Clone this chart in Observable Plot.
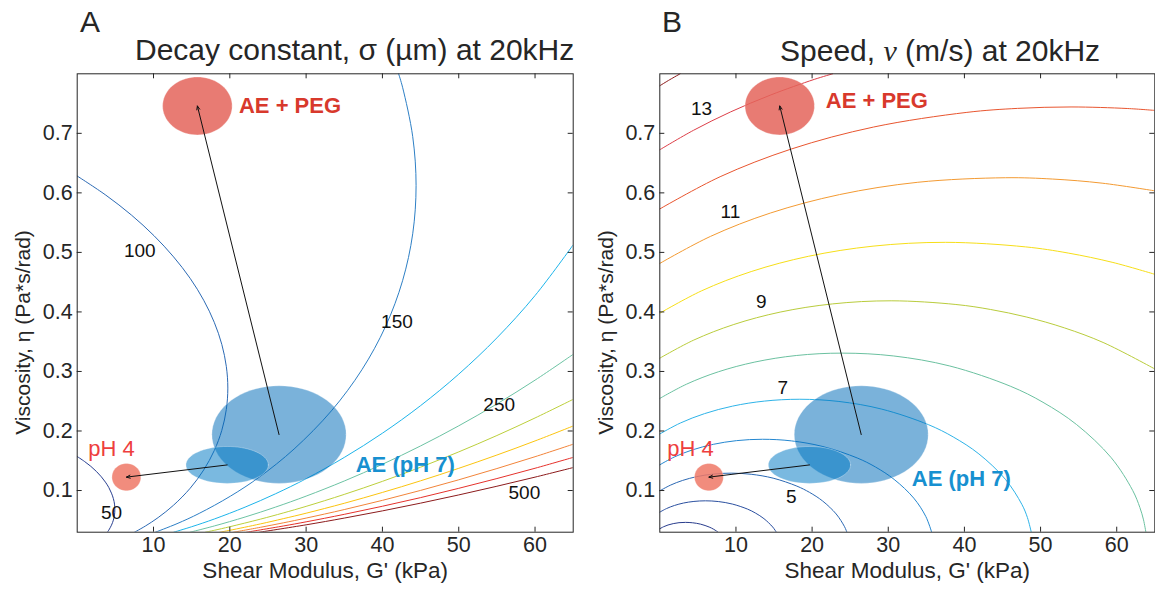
<!DOCTYPE html>
<html><head><meta charset="utf-8">
<script src="https://cdn.jsdelivr.net/npm/d3@7"></script>
<script src="https://cdn.jsdelivr.net/npm/@observablehq/plot@0.6"></script>
<style>
body{margin:0;background:#fff;}
#wrap{position:relative;width:1155px;height:597px;overflow:hidden;font-family:"Liberation Sans",Arial,Helvetica,sans-serif;color:#262626;}
.panel{position:absolute;top:0;}
.panel g[aria-label="x-axis tick label"], .panel g[aria-label="y-axis tick label"]{font-size:21.5px !important;}
.lbl{position:absolute;white-space:nowrap;line-height:1;}
</style></head><body><div id="wrap"></div>
<script>
// ---------- axes ----------
const xTicks = [10, 20, 30, 40, 50, 60];
const yTicks = [0.1, 0.2, 0.3, 0.4, 0.5, 0.6, 0.7];
const xDomain = [0, 65];
const yDomain = [0.03, 0.8];
const xLabel = "Shear Modulus, G' (kPa)";
const yLabel = "Viscosity, \u03b7 (Pa*s/rad)";

// ---------- samples (ellipses: mean +/- spread) ----------
const sampleNames = ["AE + PEG", "AE (pH 7) a", "AE (pH 7) b", "pH 4"];
const sampleG = [15.75, 26.45, 19.65, 6.45];
const sampleEta = [0.746, 0.194, 0.143, 0.1225];
const sampleGSpread = [4.56, 8.8, 5.4, 1.9];
const sampleEtaSpread = [0.0487, 0.082, 0.031, 0.023];
const sampleColors = ["#e4645a", "#006cb8", "#0078c4", "#ee7866"];
const sampleOpacity = [0.85, 0.52, 0.52, 0.85];
const arrowFrom = [1, 2];
const arrowTo = [0, 3];

// ---------- annotations ----------
const annText = ["AE + PEG", "AE (pH 7)", "pH 4"];
const annColors = ["#d8392c", "#1790d0", "#ee3e3e"];
const annWeights = ["bold", "bold", "normal"];
const annGA = [21.2, 36.5, 1.44];
const annEtaA = [0.7465, 0.1432, 0.170];
const annGB = [21.8, 33.1, 0.97];
const annEtaB = [0.755, 0.1197, 0.170];

// ---------- panel A: decay constant contours (um) ----------
const decayLevels = [50, 100, 150, 200, 250, 300, 350, 400, 450, 500];
const decayColors = ["#283f90", "#2c6ab4", "#2d7fc5", "#1db4ea", "#6cc3a3", "#bccf3b", "#fbc40f", "#f2843a", "#e5322c", "#8c1b1c"];
const decayG = [
  [0, 0.94, 1.78, 2.52, 3.16, 3.70, 4.15, 4.49, 4.74, 4.89, 4.93, 4.89, 4.74, 4.49, 4.15, 3.95],
  [0, 3.75, 7.11, 10.07, 12.63, 14.81, 16.58, 17.96, 18.95, 19.54, 19.74, 19.54, 18.95, 17.96, 16.58, 14.81, 12.63, 10.61, 8.93, 7.51],
  [42.12, 42.64, 43.97, 44.41, 43.97, 42.64, 40.42, 37.31, 33.31, 28.42, 23.88, 20.09, 15.99, 13.08, 10.25],
  [12.65, 15, 18, 22, 26, 30, 35, 40, 45, 50, 55, 60, 65],
  [14.8, 18, 22, 26, 30, 35, 40, 45, 50, 55, 60, 65],
  [16.8, 18, 20, 24, 27, 30, 35, 40, 45, 50, 55, 60, 65],
  [18.7, 20, 24, 27, 30, 35, 40, 45, 50, 55, 60, 65],
  [20.5, 24, 27, 30, 35, 40, 45, 50, 55, 60, 65],
  [22.2, 27, 30, 35, 40, 45, 50, 55, 60, 65],
  [23.9, 30, 35, 40, 45, 50, 55, 60, 65]
];
const decayEta = [
  [0.1571, 0.1490, 0.1407, 0.1320, 0.1231, 0.1141, 0.1049, 0.0956, 0.0864, 0.0772, 0.0680, 0.0590, 0.0503, 0.0418, 0.0337, 0.030],
  [0.6283, 0.5962, 0.5627, 0.5280, 0.4925, 0.4563, 0.4196, 0.3826, 0.3455, 0.3086, 0.2721, 0.2361, 0.2011, 0.1671, 0.1346, 0.1039, 0.0754, 0.0546, 0.0403, 0.030],
  [0.80, 0.7774, 0.6944, 0.6122, 0.5313, 0.4524, 0.3760, 0.3029, 0.2338, 0.1697, 0.1227, 0.0906, 0.0616, 0.0443, 0.030],
  [0.030, 0.0392, 0.0523, 0.0721, 0.0946, 0.1198, 0.1556, 0.1963, 0.2426, 0.2955, 0.3564, 0.4275, 0.5127],
  [0.030, 0.0406, 0.0555, 0.0722, 0.0906, 0.1160, 0.1441, 0.1749, 0.2087, 0.2454, 0.2854, 0.3288],
  [0.030, 0.0333, 0.0392, 0.0519, 0.0623, 0.0734, 0.0935, 0.1154, 0.1392, 0.1649, 0.1924, 0.2219, 0.2532],
  [0.030, 0.0332, 0.0439, 0.0527, 0.0619, 0.0786, 0.0968, 0.1163, 0.1373, 0.1596, 0.1833, 0.2084],
  [0.030, 0.0382, 0.0457, 0.0537, 0.0680, 0.0835, 0.1002, 0.1180, 0.1369, 0.1568, 0.1778],
  [0.030, 0.0404, 0.0474, 0.0600, 0.0736, 0.0881, 0.1037, 0.1201, 0.1374, 0.1557],
  [0.030, 0.0424, 0.0537, 0.0658, 0.0788, 0.0926, 0.1072, 0.1225, 0.1386]
];
const decayLabelText = ["50", "100", "150", "250", "500"];
const decayLabelG = [4.5, 8.2, 41.9, 55.3, 58.6];
const decayLabelEta = [0.062, 0.503, 0.384, 0.243, 0.096];

// ---------- panel B: speed contours (m/s) ----------
const speedLevels = [3, 4, 5, 6, 7, 8, 9, 10, 11, 12, 13, 14];
const speedColors = ["#283c8c", "#2a4f9f", "#2b68b3", "#2487d0", "#2eb3e8", "#6bc1a0", "#b9cc3c", "#f6de18", "#f39a32", "#e8552f", "#dc3f48", "#8d1b1b"];
const speedG = [
  [0, 0.50, 1.08, 1.76, 2.52, 3.38, 4.32, 5.36, 6.48, 7.08, 7.66],
  [0, 0.88, 1.92, 3.12, 4.48, 6.0, 7.68, 9.52, 11.52, 12.58, 13.68, 14.82, 15.31],
  [0, 1.38, 3.0, 4.88, 7.0, 9.38, 12.0, 14.88, 18.0, 19.66, 21.38, 23.16, 24.26, 24.57],
  [0, 1.98, 4.32, 7.02, 10.08, 13.5, 17.28, 21.42, 25.92, 28.31, 30.78, 33.35, 34.93, 35.70],
  [0, 2.70, 5.88, 9.56, 13.72, 18.38, 23.52, 29.16, 35.28, 38.53, 41.90, 45.39, 47.54, 48.27, 48.78],
  [0, 3.52, 7.68, 12.48, 17.92, 24.0, 30.72, 38.08, 46.08, 50.32, 54.72, 59.28, 62.09, 63.04, 63.52, 63.83],
  [0, 4.46, 9.72, 15.80, 22.68, 30.38, 38.88, 43.44, 48.20, 53.16, 58.32, 65],
  [0, 5.5, 12.0, 19.5, 28.0, 37.5, 48.0, 53.63, 59.5, 65],
  [0, 6.66, 14.52, 23.60, 33.88, 45.38, 51.59, 58.08, 65],
  [0, 7.92, 17.28, 28.08, 40.32, 46.98, 54.0, 61.38, 65],
  [0, 4.44, 9.30, 14.58, 20.28, 22.70],
  [0, 1.32, 2.67]
];
const speedEta = [
  [0.0358, 0.0392, 0.0421, 0.0444, 0.0460, 0.0465, 0.0458, 0.0435, 0.0387, 0.0349, 0.030],
  [0.0637, 0.0697, 0.0749, 0.0790, 0.0817, 0.0827, 0.0815, 0.0773, 0.0688, 0.0620, 0.0527, 0.0388, 0.030],
  [0.0995, 0.1089, 0.1170, 0.1234, 0.1276, 0.1292, 0.1273, 0.1208, 0.1074, 0.0969, 0.0824, 0.0606, 0.0392, 0.030],
  [0.1432, 0.1568, 0.1684, 0.1776, 0.1838, 0.1861, 0.1834, 0.1739, 0.1547, 0.1396, 0.1186, 0.0872, 0.0564, 0.030],
  [0.1950, 0.2134, 0.2292, 0.2418, 0.2502, 0.2533, 0.2496, 0.2367, 0.2106, 0.1900, 0.1615, 0.1187, 0.0768, 0.0547, 0.030],
  [0.2547, 0.2787, 0.2994, 0.3158, 0.3268, 0.3308, 0.3260, 0.3092, 0.2750, 0.2482, 0.2109, 0.1551, 0.1003, 0.0715, 0.0507, 0.030],
  [0.3223, 0.3527, 0.3789, 0.3997, 0.4135, 0.4187, 0.4125, 0.4041, 0.3913, 0.3731, 0.3481, 0.3042],
  [0.3979, 0.4355, 0.4678, 0.4934, 0.5105, 0.5169, 0.5093, 0.4989, 0.4831, 0.4632],
  [0.4815, 0.5269, 0.5661, 0.5971, 0.6178, 0.6254, 0.6232, 0.6163, 0.6034],
  [0.5730, 0.6271, 0.6737, 0.7106, 0.7352, 0.7419, 0.7443, 0.7417, 0.7385],
  [0.6724, 0.7052, 0.7360, 0.7645, 0.7906, 0.80],
  [0.7799, 0.7902, 0.80]
];
const speedLabelText = ["5", "7", "9", "11", "13"];
const speedLabelG = [17.26, 16.15, 13.32, 9.28, 5.48];
const speedLabelEta = [0.0888, 0.2725, 0.4162, 0.5685, 0.741];

// ---------- build ----------
const FONT = '"Liberation Sans", Arial, Helvetica, sans-serif';
const INK = "#262626";

function curveRows(levels, G, E) {
  return levels.flatMap((lv, i) => G[i].map((g, j) => ({level: lv, g, eta: E[i][j]})));
}
function ellipseOutline(i) {
  return d3.range(73).map(k => {
    const a = 2 * Math.PI * k / 72;
    return {g: sampleG[i] + sampleGSpread[i] * Math.cos(a), eta: sampleEta[i] + sampleEtaSpread[i] * Math.sin(a)};
  });
}
const arrows = arrowFrom.map((f, k) => ({x1: sampleG[f], y1: sampleEta[f], x2: sampleG[arrowTo[k]], y2: sampleEta[arrowTo[k]]}));

function makePanel(o) {
  const H = 597, mt = 73.3, mb = 65.3;
  const pw = o.width - o.ml - o.mr, ph = H - mt - mb;
  const ann = annText.map((t, i) => ({t, g: o.annG[i], eta: o.annEta[i], color: annColors[i], weight: annWeights[i]}));
  const labs = o.labelText.map((t, i) => ({t, g: o.labelG[i], eta: o.labelEta[i]}));
  const marks = [
    Plot.line(curveRows(o.levels, o.G, o.E), {x: "g", y: "eta", z: "level", stroke: "level", strokeWidth: 1, curve: "catmull-rom", clip: true})
  ];
  sampleNames.forEach((n, i) => {
    marks.push(Plot.line(ellipseOutline(i), {x: "g", y: "eta", fill: sampleColors[i], fillOpacity: sampleOpacity[i], stroke: "#fff", strokeOpacity: 0.3, strokeWidth: 1, curve: "linear-closed", clip: true}));
  });
  marks.push(Plot.arrow(arrows, {x1: "x1", y1: "y1", x2: "x2", y2: "y2", stroke: "#111", strokeWidth: 1, headLength: 6, headAngle: 45}));
  marks.push(Plot.text(labs, {x: "g", y: "eta", text: "t", fontSize: 19, fill: "#111"}));
  ann.forEach(a => {
    marks.push(Plot.text([a], {x: "g", y: "eta", text: "t", fill: a.color, fontWeight: a.weight, fontSize: 22, textAnchor: "start"}));
  });
  marks.push(
    Plot.tickX(xTicks, {x: d => d, stroke: INK, insetTop: ph - 5}),
    Plot.tickX(xTicks, {x: d => d, stroke: INK, insetBottom: ph - 5}),
    Plot.tickY(yTicks, {y: d => d, stroke: INK, insetRight: pw - 5}),
    Plot.tickY(yTicks, {y: d => d, stroke: INK, insetLeft: pw - 5}),
    Plot.axisX({ticks: xTicks, tickSize: 0, tickPadding: 4.7, label: null, fontSize: 21.5}),
    Plot.axisY({ticks: yTicks, tickSize: 0, tickPadding: 4.5, label: null, fontSize: 21.5}),
    Plot.frame({stroke: INK, strokeWidth: 1}),
    Plot.text([xLabel], {frameAnchor: "bottom", dy: 45.3, lineAnchor: "bottom", textAnchor: "middle", fontSize: 22.5, fill: INK}),
    Plot.text([yLabel], {frameAnchor: "left", rotate: -90, dx: o.ylabDx, dy: 29.5, lineAnchor: "bottom", textAnchor: "middle", fontSize: 21, fill: INK})
  );
  const svg = Plot.plot({
    width: o.width, height: H,
    marginTop: mt, marginBottom: mb, marginLeft: o.ml, marginRight: o.mr,
    style: {fontFamily: FONT, fontSize: "21px", color: INK, background: "transparent", overflow: "visible"},
    x: {domain: xDomain},
    y: {domain: yDomain},
    color: {type: "ordinal", domain: o.levels, range: o.colors},
    marks
  });
  svg.classList.add("panel");
  svg.style.left = o.left + "px";
  return svg;
}

const wrap = document.getElementById("wrap");
wrap.appendChild(makePanel({
  left: 0, width: 580, ml: 76.7, mr: 7.3, ylabDx: -46.7,
  levels: decayLevels, colors: decayColors, G: decayG, E: decayEta,
  labelText: decayLabelText, labelG: decayLabelG, labelEta: decayLabelEta,
  annG: annGA, annEta: annEtaA
}));
wrap.appendChild(makePanel({
  left: 580, width: 575, ml: 79.3, mr: 0.7, ylabDx: -47.3,
  levels: speedLevels, colors: speedColors, G: speedG, E: speedEta,
  labelText: speedLabelText, labelG: speedLabelG, labelEta: speedLabelEta,
  annG: annGB, annEta: annEtaB
}));

function addLabel(html, left, baseline, size) {
  const d = document.createElement("div");
  d.className = "lbl";
  d.innerHTML = html;
  d.style.left = left + "px";
  d.style.fontSize = size + "px";
  d.style.top = (baseline - 0.8465 * size) + "px";
  wrap.appendChild(d);
}
addLabel("A", 80, 32, 30);
addLabel("Decay constant, \u03c3 (\u00b5m) at 20kHz", 135, 60, 30);
addLabel("B", 662, 32, 30);
addLabel('Speed, <span style="font-family:\'Liberation Serif\',\'Times New Roman\',serif;font-style:italic">\u03bd</span> (m/s) at 20kHz', 780, 61, 30);
</script>
</body></html>
